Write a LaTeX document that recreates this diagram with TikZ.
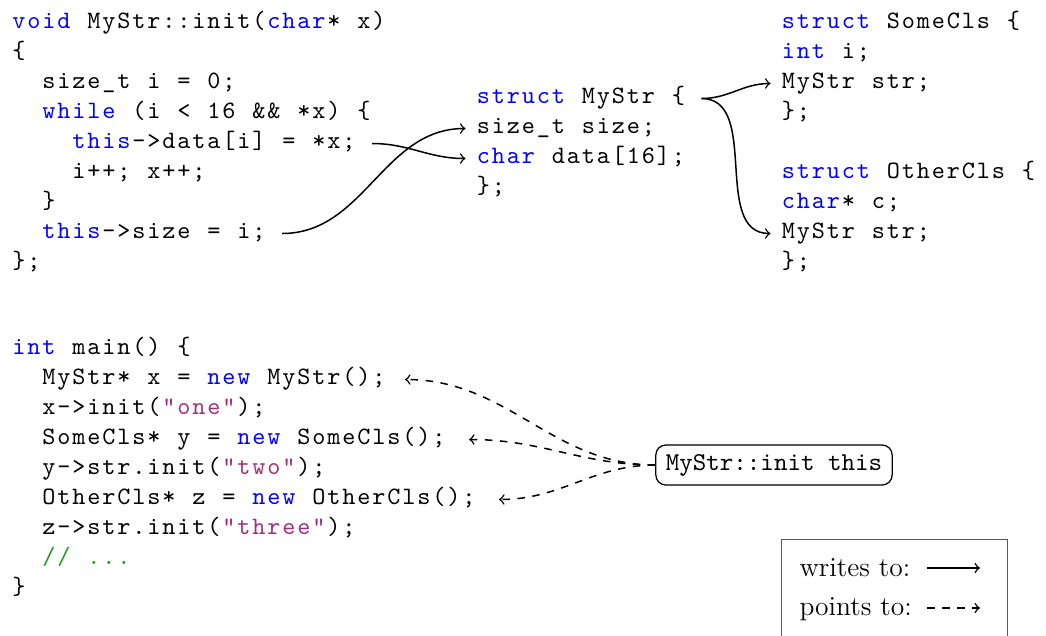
\documentclass[tikz,border=0pt]{standalone}
\usepackage{fontspec}
\usetikzlibrary{calc}

\definecolor{kwblue}{rgb}{0,0,1}
\definecolor{strmag}{HTML}{A0307A}
\definecolor{cmgreen}{HTML}{22A022}
\definecolor{framegray}{gray}{0.35}

% fixed-column code: every token is centred in a 6pt wide column, ~ is a blank column
\def\codestrend{\codestrend}
\def\codestr#1{\codestrloop#1\codestrend}
\def\codestrloop#1{\ifx#1\codestrend\else
  \hbox to 6pt{\hss#1\hss}\expandafter\codestrloop\fi}
\newcommand\kw[1]{{\color{kwblue}\codestr{#1}}}
\newcommand\strlit[1]{{\color{strmag}\codestr{#1}}}
\newcommand\cmt[1]{{\color{cmgreen}\codestr{#1}}}

\tikzset{
  code/.style={anchor=base west, inner sep=0pt,
    font=\ttfamily\fontsize{10pt}{12pt}\selectfont},
  writes/.style={->, line width=0.6pt},
  points/.style={->, dashed, line width=0.6pt},
  initbox/.style={draw, rounded corners=4pt, line width=0.5pt,
    font=\ttfamily\fontsize{10.3pt}{12pt}\selectfont,
    inner xsep=4pt, minimum height=16pt},
  legendbox/.style={draw=framegray, line width=0.5pt, anchor=north west,
    inner sep=0pt, minimum width=90.4pt, minimum height=50pt},
  legendtxt/.style={anchor=base west, inner sep=0pt,
    font=\fontsize{11pt}{13pt}\selectfont},
}

\begin{document}
\begin{tikzpicture}[x=0.4pt, y=-0.4pt]
\useasboundingbox (0,0) rectangle (1046,635);
\clip (0,0) rectangle (1046,635);

% MyStr::init
\node[code] (t1) at (11,28.5)  {\kw{void}\codestr{~MyStr::init(}\kw{char}\codestr{*~x)}};
\node[code] (t2) at (11,58.5)  {\codestr{\{}};
\node[code] (t3) at (41,88.5)  {\codestr{size\_t~i~=~0;}};
\node[code] (t4) at (41,118.5) {\kw{while}\codestr{~(i~<~16~\&\&~*x)~\{}};
\node[code] (t5) at (71,148.5) {\kw{this}\codestr{->data[i]~=~*x;}};
\node[code] (t6) at (71,178.5) {\codestr{i++;~x++;}};
\node[code] (t7) at (41,208.5) {\codestr{\}}};
\node[code] (t8) at (41,238.5) {\kw{this}\codestr{->size~=~i;}};
\node[code] (t9) at (11,268.5) {\codestr{\};}};

% struct MyStr
\node[code] (m1) at (475.5,103.5) {\kw{struct}\codestr{~MyStr~\{}};
\node[code] (m2) at (475.5,133.5) {\codestr{size\_t~size;}};
\node[code] (m3) at (475.5,163.5) {\kw{char}\codestr{~data[16];}};
\node[code] (m4) at (475.5,193.5) {\codestr{\};}};

% struct SomeCls
\node[code] (s1) at (780.5,28.5)  {\kw{struct}\codestr{~SomeCls~\{}};
\node[code] (s2) at (780.5,58.5)  {\kw{int}\codestr{~i;}};
\node[code] (s3) at (780.5,88.5)  {\codestr{MyStr~str;}};
\node[code] (s4) at (780.5,118.5) {\codestr{\};}};

% struct OtherCls
\node[code] (o1) at (780.5,178.5) {\kw{struct}\codestr{~OtherCls~\{}};
\node[code] (o2) at (780.5,208.5) {\kw{char}\codestr{*~c;}};
\node[code] (o3) at (780.5,238.5) {\codestr{MyStr~str;}};
\node[code] (o4) at (780.5,268.5) {\codestr{\};}};

% main
\node[code] (n0) at (11,354.5) {\kw{int}\codestr{~main()~\{}};
\node[code] (n1) at (41,384.5) {\codestr{MyStr*~x~=~}\kw{new}\codestr{~MyStr();}};
\node[code] (n2) at (41,414.5) {\codestr{x->init(}\strlit{"one"}\codestr{);}};
\node[code] (n3) at (41,444.5) {\codestr{SomeCls*~y~=~}\kw{new}\codestr{~SomeCls();}};
\node[code] (n4) at (41,474.5) {\codestr{y->str.init(}\strlit{"two"}\codestr{);}};
\node[code] (n5) at (41,504.5) {\codestr{OtherCls*~z~=~}\kw{new}\codestr{~OtherCls();}};
\node[code] (n6) at (41,534.5) {\codestr{z->str.init(}\strlit{"three"}\codestr{);}};
\node[code] (n7) at (41,564.5) {\cmt{//~...}};
\node[code] (n8) at (11,594.5) {\codestr{\}}};

% the this pointer
\node[initbox] (init) at (774,465) {MyStr::init this};

% writes
\draw[writes] ($(t5.base east)+(15,-5)$) to[out=0,in=180] ($(m3.base west)+(-10,-5)$);
\draw[writes] ($(t8.base east)+(15,-5)$) to[out=0,in=180] ($(m2.base west)+(-10,-5)$);
\draw[writes] ($(m1.base east)+(15,-5)$) to[out=0,in=180] ($(s3.base west)+(-10,-5)$);
\draw[writes] ($(m1.base east)+(15,-5)$) to[out=0,in=180] ($(o3.base west)+(-10,-5)$);

% points to
\draw[points] (init.west) to[out=180,in=0] ($(n1.base east)+(18,-5)$);
\draw[points] (init.west) to[out=180,in=0] ($(n3.base east)+(22,-5)$);
\draw[points] (init.west) to[out=180,in=0] ($(n5.base east)+(22,-5)$);

% legend
\node[legendbox] (legend) at (781,539) {};
\node[legendtxt] (lw) at (799,576) {writes to:};
\node[legendtxt] (lp) at (799,615) {points to:};
\coordinate (wa) at (927,568);
\coordinate (wb) at (980,568);
\coordinate (pa) at (927,608);
\coordinate (pb) at (980,608);
\draw[writes] (wa) -- (wb);
\draw[points] (pa) -- (pb);
\end{tikzpicture}
\end{document}
